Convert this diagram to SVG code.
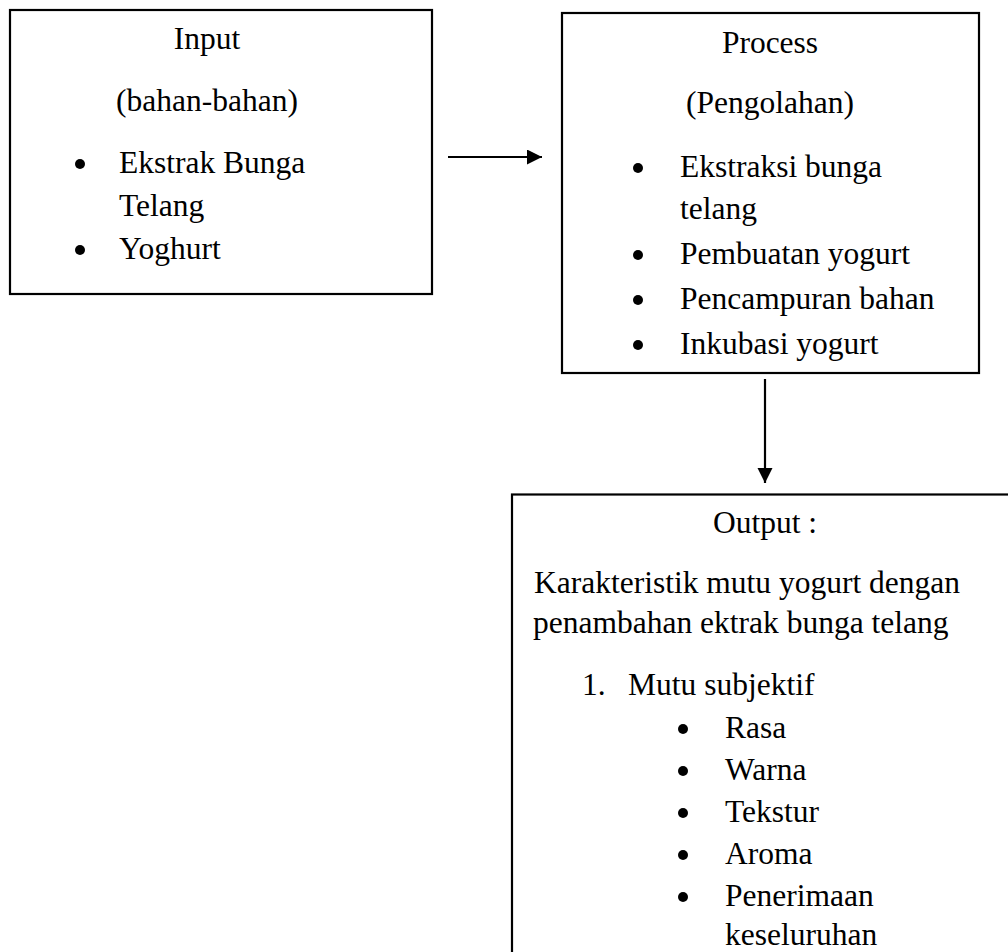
<svg xmlns="http://www.w3.org/2000/svg" width="1008" height="952" viewBox="0 0 1008 952">
<style>
.box{fill:#fff;stroke:#000;stroke-width:2.2}
.t{font-family:"Liberation Serif","Times New Roman",serif;font-size:31.5px;fill:#000}
.c{text-anchor:middle}
.con{stroke:#000;stroke-width:2.2;fill:none}
.dot{fill:#000}
</style>
<defs>
<marker id="ah" markerWidth="16" markerHeight="16" refX="15" refY="7.5" orient="auto" markerUnits="userSpaceOnUse">
<path d="M0,0 L15,7.5 L0,15 Z" fill="#000"/>
</marker>
</defs>
<rect width="1008" height="952" fill="#fff"/>
<g id="input">
<rect class="box" x="10" y="10" width="422" height="284"/>
<text class="t c" x="207" y="49">Input</text>
<text class="t c" x="207" y="111">(bahan-bahan)</text>
<circle class="dot" cx="80" cy="164" r="5"/>
<text class="t" x="119" y="173">Ekstrak Bunga</text>
<text class="t" x="119" y="216">Telang</text>
<circle class="dot" cx="80" cy="250" r="5"/>
<text class="t" x="119" y="259">Yoghurt</text>
</g>
<g id="process">
<rect class="box" x="562" y="13" width="417" height="360"/>
<text class="t c" x="770" y="53">Process</text>
<text class="t c" x="770" y="113">(Pengolahan)</text>
<circle class="dot" cx="638" cy="168" r="5"/>
<text class="t" x="680" y="177">Ekstraksi bunga</text>
<text class="t" x="680" y="219">telang</text>
<circle class="dot" cx="638" cy="255" r="5"/>
<text class="t" x="680" y="264">Pembuatan yogurt</text>
<circle class="dot" cx="638" cy="300" r="5"/>
<text class="t" x="680" y="309">Pencampuran bahan</text>
<circle class="dot" cx="638" cy="345" r="5"/>
<text class="t" x="680" y="354">Inkubasi yogurt</text>
</g>
<g id="output">
<rect class="box" x="512" y="494.5" width="620" height="600"/>
<text class="t c" x="765" y="533">Output :</text>
<text class="t" x="534" y="593">Karakteristik mutu yogurt dengan</text>
<text class="t" x="533" y="633">penambahan ektrak bunga telang</text>
<text class="t" x="582" y="695">1.</text>
<text class="t" x="628" y="695">Mutu subjektif</text>
<circle class="dot" cx="683" cy="729" r="5"/>
<text class="t" x="725" y="738">Rasa</text>
<circle class="dot" cx="683" cy="771" r="5"/>
<text class="t" x="725" y="780">Warna</text>
<circle class="dot" cx="683" cy="813" r="5"/>
<text class="t" x="725" y="822">Tekstur</text>
<circle class="dot" cx="683" cy="855" r="5"/>
<text class="t" x="725" y="864">Aroma</text>
<circle class="dot" cx="683" cy="897" r="5"/>
<text class="t" x="725" y="906">Penerimaan</text>
<text class="t" x="725" y="945">keseluruhan</text>
</g>
<g id="connectors">
<line class="con" x1="448" y1="157" x2="542" y2="157" marker-end="url(#ah)"/>
<line class="con" x1="765" y1="379" x2="765" y2="483" marker-end="url(#ah)"/>
</g>
</svg>
